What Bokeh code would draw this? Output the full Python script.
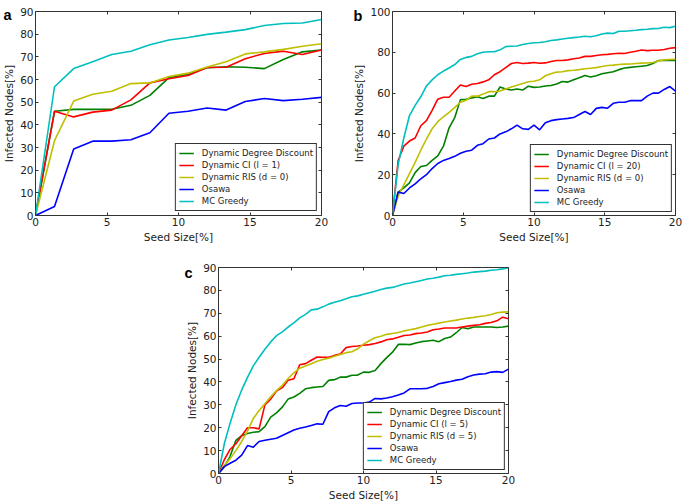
from bokeh.plotting import figure
from bokeh.models import (Legend, LegendItem, LinearAxis, FixedTicker,
                          CustomJSTickFormatter, Spacer, GridBox)
from bokeh.core.properties import value
from bokeh.layouts import column, row
from bokeh.embed import file_html
from bokeh.resources import INLINE

# ---------------- data ----------------
series_names_a = ["Dynamic Degree Discount", "Dynamic CI (l = 1)", "Dynamic RIS (d = 0)", "Osawa", "MC Greedy"]
series_names_b = ["Dynamic Degree Discount", "Dynamic CI (l = 20)", "Dynamic RIS (d = 0)", "Osawa", "MC Greedy"]
series_names_c = ["Dynamic Degree Discount", "Dynamic CI (l = 5)", "Dynamic RIS (d = 5)", "Osawa", "MC Greedy"]
panel_letters = ["a", "b", "c"]

seed_a = [0, 1.33, 2.67, 4, 5.33, 6.67, 8, 9.33, 10.67, 12, 13.33, 14.67, 16, 17.33, 18.67, 20]
a_degree = [0, 46, 46.8, 46.8, 46.9, 48.6, 53, 60.8, 62.3, 65.2, 65.6, 65.4, 64.8, 68.8, 72.2, 73]
a_ci = [0, 46, 43.5, 45.6, 46.5, 51, 58.5, 60.3, 61.8, 65.3, 65.4, 69.2, 71.5, 72.5, 71, 73]
a_ris = [0, 33, 50.5, 53.5, 54.8, 58.2, 58.5, 61.3, 62.8, 65.5, 67.8, 71.3, 72.2, 73.3, 74.7, 75.8]
a_osawa = [0, 4, 29.3, 32.8, 32.8, 33.4, 36.5, 45.1, 46, 47.4, 46.5, 50.3, 51.6, 50.7, 51.3, 52.1]
a_greedy = [0, 56.8, 64.8, 67.8, 71, 72.5, 75.3, 77.4, 78.5, 79.9, 80.9, 82, 83.8, 84.7, 84.9, 86.5]

seed_bc = [0, 0.4, 0.8, 1.2, 1.6, 2.0, 2.4, 2.8, 3.2, 3.6, 4.0, 4.4, 4.8, 5.2, 5.6, 6.0, 6.4,
           6.8, 7.2, 7.6, 8.0, 8.4, 8.8, 9.2, 9.6, 10.0, 10.4, 10.8, 11.2, 11.6, 12.0, 12.4,
           12.8, 13.2, 13.6, 14.0, 14.4, 14.8, 15.2, 15.6, 16.0, 16.4, 16.8, 17.2, 17.6, 18.0,
           18.4, 18.8, 19.2, 19.6, 20.0]

b_degree = [0, 11.5, 13.5, 16, 21, 24, 24.5, 27, 29.2, 34, 43, 48, 56.8, 57, 57.6, 58.2, 57.4,
            58.5, 58.5, 63, 62, 61.5, 62, 61.5, 63.4, 62.8, 63, 63.5, 63.7, 64.5, 65.7, 65.4,
            66.5, 67.5, 68.6, 67.9, 68.5, 69.5, 70, 70.5, 71.5, 72.3, 72.6, 72.9, 73.2, 73.5,
            74.5, 76, 76, 76, 76]
b_ci = [0, 27, 34, 36.5, 38, 44, 46.5, 51.5, 57, 58, 58, 61, 64, 63.2, 64.3, 64.7, 65.5,
        66.5, 69, 70.5, 72.5, 74.5, 75, 74.5, 74.7, 75, 74.6, 74.8, 75.5, 76, 76, 76.3,
        76.8, 77.2, 78, 78, 78.4, 78.8, 79, 79.3, 79.5, 79.4, 80, 80.5, 81.1, 80.8,
        81, 81, 81.4, 82, 82.3]
b_ris = [0, 9.5, 15, 20.5, 26, 32, 37.5, 42.5, 46, 48.4, 50.5, 53, 55.5, 56.5, 58.5, 58.5, 59.5,
         60.7, 60.7, 61, 62, 63, 63.8, 64.7, 65.6, 65.8, 66.5, 68.5, 69.5, 70.3, 70.5, 71,
         71.2, 71.5, 71.9, 72.2, 72.5, 73, 73.5, 73.7, 74, 74.2, 74.3, 74.5, 74.7, 74.8,
         75, 75.8, 76.3, 76.5, 76.6]
b_osawa = [0, 11.5, 10.8, 13.5, 15.5, 18, 20, 23, 25.5, 27, 27.9, 29, 30.5, 31.5, 32, 34.4, 35.2,
           37.5, 38, 40, 41, 42.5, 44.3, 42.5, 42.2, 44.3, 42, 45.5, 46.5, 47, 47.3, 47.6,
           48, 49.5, 51, 49.5, 52.5, 53, 52.6, 55, 55.5, 55.5, 56.3, 56.3, 56.3, 58.5,
           60, 60, 61.8, 63.2, 61]
b_greedy = [0, 25, 38, 49, 54, 58.2, 63.5, 66.5, 69, 70.8, 72.3, 74, 76.5, 77.5, 78, 79.3, 80,
            80.3, 80.3, 81.2, 82.8, 83, 83.1, 83.8, 84.3, 84.7, 84.8, 85.2, 85.8, 86.1, 86.5, 86.9,
            87.2, 87.5, 87.9, 87.6, 88.1, 89, 89.4, 89.2, 90.3, 90.3, 90.6, 90.8, 91.1, 91.3,
            91.6, 91.7, 92.3, 92.1, 92.8]

c_degree = [0, 3, 7.5, 14.5, 16.5, 17.5, 18, 18.3, 20.5, 24.6, 26.5, 29, 32.5, 33.4, 35, 37, 37.5,
            37.8, 38, 40.7, 41, 42.1, 42.1, 42.9, 43, 44.3, 44.2, 45, 48, 50.6, 53, 56.4,
            56.5, 56.3, 57, 57.6, 57.9, 58.2, 57.6, 59, 59.6, 61.5, 63.8, 63.2, 64, 64,
            64, 64, 63.8, 64, 64.4]
c_ci = [0, 6, 10.5, 13, 16.5, 20, 20, 19.5, 30, 32.5, 36, 37.5, 40.7, 41.4, 47.5, 48, 49.5,
        50.9, 50.8, 50.8, 51.6, 52.2, 55, 55.5, 55.7, 56, 56.3, 56.8, 57.5, 58.4, 58.8, 59.5,
        60.3, 60.5, 61.1, 61.4, 61.8, 62.8, 63.1, 63.6, 63.6, 63.6, 64, 64.4, 64.7, 65,
        65.6, 66, 66.7, 68.3, 67.6]
c_ris = [0, 3.5, 6.5, 10, 14, 18.5, 24, 27.5, 30.5, 33.5, 36.2, 38.5, 41.5, 44, 46, 47, 48,
         49, 49.8, 50.4, 51.2, 52, 52.8, 53.2, 54.5, 56.5, 58, 59.3, 60, 60.8, 61.2, 61.6,
         62.3, 62.8, 63.3, 64, 64.7, 65.2, 65.7, 66.2, 66.6, 67, 67.5, 67.9, 68.2, 68.6,
         68.9, 69.5, 70.2, 70.5, 70.6]
c_osawa = [0, 3, 4.5, 5.8, 8, 12.2, 11.5, 14, 14.5, 15, 15.4, 16.6, 17.8, 19, 19.8, 20.3, 21,
           21.7, 21.5, 27, 28.7, 29.7, 29.4, 30.6, 30.8, 30.8, 31.2, 32.8, 32.6, 33, 33.5, 34.3,
           35.2, 37, 37, 37, 37.2, 38, 39.2, 39.7, 40.2, 40.8, 41.2, 42.3, 43, 43.4,
           43.6, 44.3, 44.5, 44.2, 45.6]
c_greedy = [0, 13, 22, 30, 36.5, 42, 47, 50.8, 54.3, 57.5, 60.2, 61.9, 64, 65.8, 68, 69.5, 71.5,
            71.8, 72.8, 74, 74.8, 75.5, 76.3, 77.2, 77.6, 78.3, 79, 79.6, 80.4, 81, 81.3, 82,
            82.8, 83.2, 83.8, 84.3, 85, 85.3, 85.8, 86.4, 86.6, 87, 87.3, 87.6, 88, 88.2,
            88.4, 88.8, 89, 89.4, 89.9]

x_ticks = [0, 5, 10, 15, 20]
y_ticks_a = [0, 10, 20, 30, 40, 50, 60, 70, 80, 90]
y_ticks_b = [0, 20, 40, 60, 80, 100]
y_ticks_c = [0, 10, 20, 30, 40, 50, 60, 70, 80, 90]

# ---------------- style ----------------
FONT = "DejaVu Sans"
LINE_COLORS = ["#008000", "#ff0000", "#bfbf00", "#0000ff", "#00bfbf"]
TXT = "#222222"
FRAME = "#333333"
PAGE_W, PAGE_H = 685, 503


def style_axis(ax):
    ax.axis_line_color = None
    ax.major_tick_in = 3
    ax.major_tick_out = 0
    ax.major_tick_line_color = FRAME
    ax.minor_tick_line_color = None
    ax.major_label_text_font = FONT
    ax.major_label_text_font_size = "10.5px"
    ax.major_label_text_color = TXT
    ax.major_label_standoff = 2
    ax.axis_label_text_font = FONT
    ax.axis_label_text_font_size = "10.5px"
    ax.axis_label_text_font_style = "normal"
    ax.axis_label_text_color = TXT
    ax.axis_label_standoff = 2


def make_panel(xs, ys_list, names, ymax, yticks, width, height, bl, br, bt, bb, leg_margin):
    p = figure(width=width, height=height, x_range=(0, 20), y_range=(0, ymax),
               output_backend="svg", toolbar_location=None,
               min_border_left=bl, min_border_right=br, min_border_top=bt, min_border_bottom=bb)
    p.xgrid.visible = False
    p.ygrid.visible = False
    p.outline_line_color = FRAME
    p.outline_line_alpha = 1
    p.outline_line_width = 1
    p.background_fill_color = "white"
    p.border_fill_color = "white"
    p.xaxis.ticker = FixedTicker(ticks=x_ticks)
    p.yaxis.ticker = FixedTicker(ticks=yticks)
    p.xaxis.axis_label = "Seed Size[%]"
    p.yaxis.axis_label = "Infected Nodes[%]"
    for ax in list(p.xaxis) + list(p.yaxis):
        style_axis(ax)

    # mirrored inward ticks on right and top
    for loc, tks in (("right", yticks), ("above", x_ticks)):
        ax = LinearAxis(ticker=FixedTicker(ticks=tks),
                        formatter=CustomJSTickFormatter(code="return ''"))
        style_axis(ax)
        ax.major_label_text_font_size = "1px"
        ax.major_label_standoff = 0
        p.add_layout(ax, loc)

    items = []
    for ys, name, col in zip(ys_list, names, LINE_COLORS):
        r = p.line(xs, ys, line_color=col, line_width=1.6)
        items.append(LegendItem(label=name, renderers=[r]))

    leg = Legend(items=items, location="bottom_right",
                 label_text_font=FONT, label_text_font_size="8.5px", label_text_color=TXT,
                 glyph_width=15, glyph_height=12, label_height=12, label_standoff=8,
                 spacing=0, padding=3, margin=leg_margin,
                 border_line_color=FRAME, border_line_width=1, border_line_alpha=1,
                 background_fill_color="white", background_fill_alpha=1)
    p.add_layout(leg)
    return p


pa = make_panel(seed_a, [a_degree, a_ci, a_ris, a_osawa, a_greedy], series_names_a,
                90, y_ticks_a, 340, 250, 32, 19, 10, 35, 4)
pb = make_panel(seed_bc, [b_degree, b_ci, b_ris, b_osawa, b_greedy], series_names_b,
                100, y_ticks_b, 345, 250, 52, 10, 11, 35, 3)
pc = make_panel(seed_bc, [c_degree, c_ci, c_ris, c_osawa, c_greedy], series_names_c,
                90, y_ticks_c, 345, 253, 48, 7, 17, 30, 3)

main = column(row(pa, pb), row(Spacer(width=170, height=253), pc))

# transparent page-sized overlay carrying the bold panel letters (pixel space)
overlay = figure(width=PAGE_W, height=PAGE_H, x_range=(0, PAGE_W), y_range=(PAGE_H, 0),
                 output_backend="svg", toolbar_location=None,
                 x_axis_location=None, y_axis_location=None, min_border=0)
overlay.xgrid.visible = False
overlay.ygrid.visible = False
overlay.outline_line_color = None
overlay.background_fill_color = None
overlay.border_fill_color = None
overlay.text(x=[3, 353, 184], y=[14.5, 15, 272], text=panel_letters,
             text_font=value("Liberation Sans"), text_font_style="bold",
             text_font_size="14.5px", text_color="black", text_baseline="alphabetic")

layout = GridBox(children=[(main, 0, 0), (overlay, 0, 0)])

open("out.html", "w").write(file_html(layout, INLINE))
